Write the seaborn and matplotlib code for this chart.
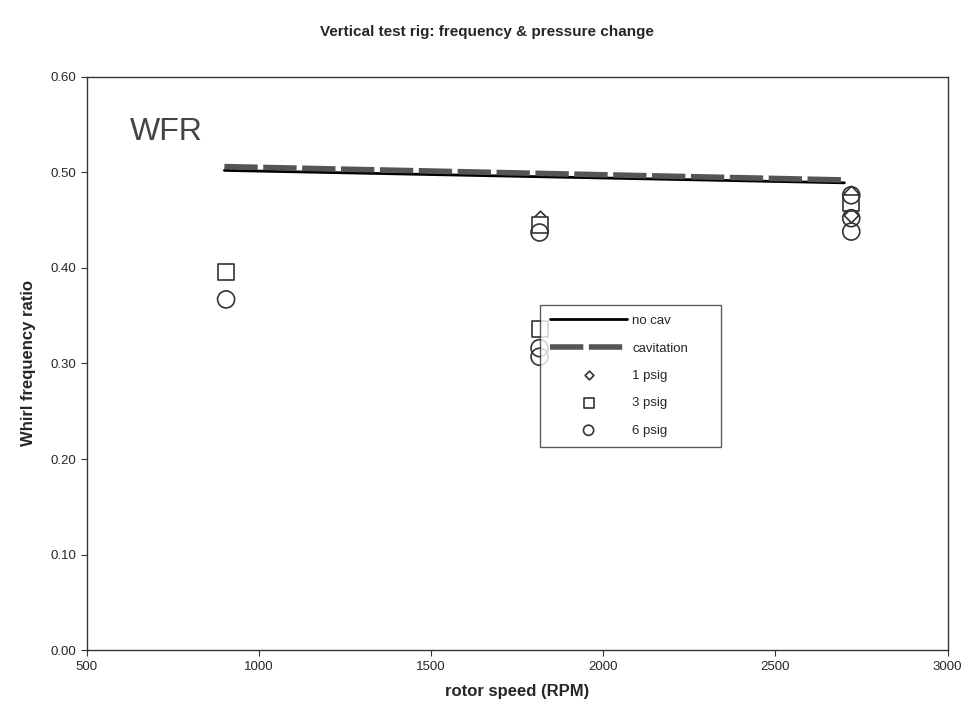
import matplotlib
matplotlib.use("Agg")
import matplotlib.pyplot as plt
import seaborn as sns
import pandas as pd

sns.set_style("white")
plt.rcParams['font.family'] = ['Liberation Sans', 'DejaVu Sans']

line_rpm = [900, 2700]
no_cav = [0.502, 0.489]
cavitation = [0.506, 0.492]

p1_rpm = [1815, 2720, 2720]
p1_wfr = [0.452, 0.478, 0.455]
p3_rpm = [905, 1815, 1815, 2720]
p3_wfr = [0.396, 0.445, 0.336, 0.468]
p6_rpm = [905, 1815, 1815, 1815, 2720, 2720, 2720]
p6_wfr = [0.367, 0.437, 0.316, 0.307, 0.476, 0.452, 0.438]

fig = plt.figure(figsize=(9.73, 7.24), dpi=100)
ax = fig.add_axes([0.089, 0.102, 0.885, 0.792])

df_lines = pd.DataFrame({"rpm": line_rpm * 2,
                         "wfr": no_cav + cavitation,
                         "series": ["no cav"] * 2 + ["cavitation"] * 2})
sns.lineplot(data=df_lines[df_lines.series == "no cav"], x="rpm", y="wfr",
             color="black", lw=2.0, ax=ax, label="no cav")
sns.lineplot(data=df_lines[df_lines.series == "cavitation"], x="rpm", y="wfr",
             color="#555555", lw=4.0, ax=ax, label="cavitation", dashes=False,
             linestyle=(0, (6, 1)))

sns.scatterplot(x=p1_rpm, y=p1_wfr, marker="D", s=55, facecolor="white",
                edgecolor="#333333", linewidth=1.2, ax=ax, label="1 psig", zorder=3)
sns.scatterplot(x=p3_rpm, y=p3_wfr, marker="s", s=130, facecolor="white",
                edgecolor="#333333", linewidth=1.2, ax=ax, label="3 psig", zorder=3)
sns.scatterplot(x=p6_rpm, y=p6_wfr, marker="o", s=150, facecolor="none",
                edgecolor="#333333", linewidth=1.2, ax=ax, label="6 psig", zorder=3)

ax.set_xlim(500, 3000)
ax.set_ylim(0, 0.6)
ax.set_xticks(range(500, 3001, 500))
ax.set_yticks([0, 0.1, 0.2, 0.3, 0.4, 0.5, 0.6])
ax.set_yticklabels([f"{v:.2f}" for v in ax.get_yticks()])
ax.tick_params(axis="both", labelsize=9.5, length=4, direction="out", color="#333333")
ax.tick_params(axis="both", bottom=True, left=True)
for s in ax.spines.values():
    s.set_color("#333333")
    s.set_linewidth(1.0)

ax.set_xlabel("rotor speed (RPM)", fontsize=12, fontweight="bold", labelpad=8)
ax.set_ylabel("Whirl frequency ratio", fontsize=12, fontweight="bold", labelpad=10)
fig.suptitle("Vertical test rig: frequency & pressure change", fontsize=11,
             fontweight="bold", y=0.965)
ax.text(0.05, 0.93, "WFR", transform=ax.transAxes, fontsize=23, color="#444444",
        va="top", ha="left")

leg = ax.legend(loc="upper left", bbox_to_anchor=(0.527, 0.0, 0.21, 0.602),
                mode="expand", fontsize=9.5,
                frameon=True, fancybox=False, edgecolor="#333333",
                handlelength=5.8, labelspacing=1.15, borderpad=0.75,
                markerscale=0.6, handletextpad=0.4, borderaxespad=0)
leg.get_frame().set_linewidth(1.0)
leg.set_zorder(5)

fig.savefig("out.png", dpi=100)
